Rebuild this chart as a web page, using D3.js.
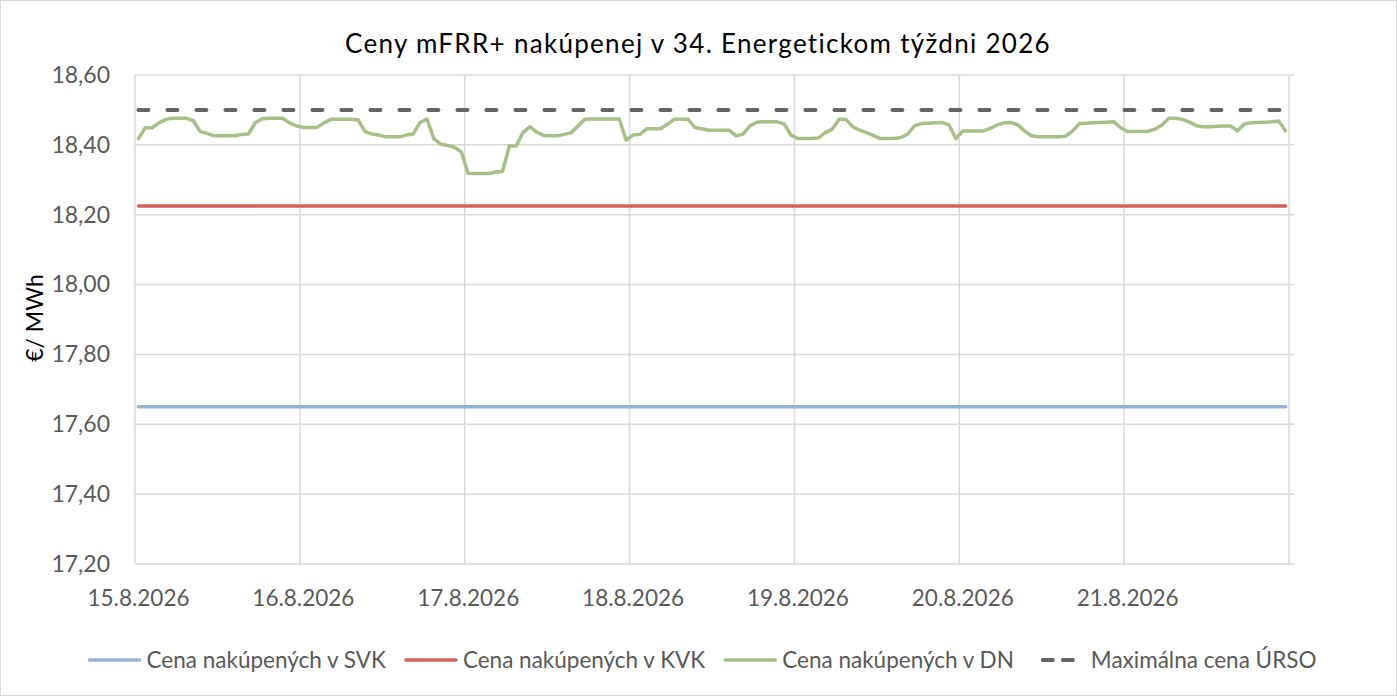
<!DOCTYPE html>
<html>
<head>
<meta charset="utf-8">
<script src="https://cdn.jsdelivr.net/npm/d3@7"></script>
<style>
  body { margin: 0; background: #fff; }
  svg { display: block; font-family: Lato, "Open Sans", sans-serif; }
</style>
</head>
<body>
<svg id="chart"></svg>
<script>
// day labels on the x axis (one per day, hourly data)
const dayLabels = ["15.8.2026", "16.8.2026", "17.8.2026", "18.8.2026", "19.8.2026", "20.8.2026", "21.8.2026"];

// y axis ticks
const yTicks = [17.2, 17.4, 17.6, 17.8, 18.0, 18.2, 18.4, 18.6];

// flat prices
const svkPrice = 17.65;
const kvkPrice = 18.225;
const maxPrice = 18.50;

// hourly prices in DN (168 hours)
const dnPrices = [
  // 15.8.
  18.418, 18.449, 18.449, 18.463, 18.473, 18.476, 18.476, 18.476, 18.469, 18.438, 18.433, 18.426,
  18.426, 18.426, 18.426, 18.430, 18.431, 18.463, 18.475, 18.476, 18.476, 18.476, 18.463, 18.454,
  // 16.8.
  18.450, 18.450, 18.450, 18.463, 18.473, 18.473, 18.473, 18.473, 18.471, 18.438, 18.431, 18.428,
  18.423, 18.423, 18.423, 18.428, 18.431, 18.464, 18.474, 18.418, 18.402, 18.398, 18.393, 18.380,
  // 17.8.
  18.318, 18.318, 18.318, 18.318, 18.322, 18.324, 18.397, 18.397, 18.436, 18.452, 18.436, 18.427,
  18.426, 18.426, 18.430, 18.435, 18.454, 18.473, 18.474, 18.474, 18.474, 18.474, 18.474, 18.414,
  // 18.8.
  18.428, 18.430, 18.446, 18.446, 18.446, 18.459, 18.473, 18.473, 18.473, 18.450, 18.446, 18.442,
  18.442, 18.442, 18.442, 18.426, 18.430, 18.454, 18.465, 18.466, 18.466, 18.466, 18.460, 18.428,
  // 19.8.
  18.418, 18.418, 18.418, 18.420, 18.435, 18.445, 18.473, 18.473, 18.452, 18.442, 18.435, 18.427,
  18.418, 18.418, 18.418, 18.421, 18.431, 18.455, 18.461, 18.462, 18.463, 18.464, 18.457, 18.418,
  // 20.8.
  18.440, 18.440, 18.440, 18.440, 18.447, 18.457, 18.463, 18.464, 18.458, 18.440, 18.426, 18.423,
  18.423, 18.423, 18.423, 18.425, 18.440, 18.461, 18.462, 18.463, 18.464, 18.465, 18.466, 18.449,
  // 21.8.
  18.438, 18.438, 18.438, 18.439, 18.445, 18.457, 18.476, 18.476, 18.473, 18.465, 18.455, 18.452,
  18.452, 18.453, 18.454, 18.454, 18.440, 18.460, 18.463, 18.464, 18.465, 18.466, 18.468, 18.440
];

const seriesNames = ["Cena nakúpených v SVK", "Cena nakúpených v KVK", "Cena nakúpených v DN", "Maximálna cena ÚRSO"];

const width = 1397, height = 696;
const margin = { top: 75, right: 108, bottom: 132, left: 135 };

const svg = d3.select("#chart")
  .attr("width", width)
  .attr("height", height);

// chart border
svg.append("rect")
  .attr("x", 0.5).attr("y", 0.5)
  .attr("width", width - 1).attr("height", height - 1)
  .attr("fill", "#fff")
  .attr("stroke", "#d9d9d9");

const hours = dnPrices.map((d, i) => i);

const x = d3.scaleLinear()
  .domain([0, dayLabels.length * 24])
  .range([margin.left, 1289]);

const y = d3.scaleLinear()
  .domain([17.2, 18.6])
  .range([564, margin.top]);

// horizontal gridlines
svg.append("g")
  .selectAll("line")
  .data(yTicks)
  .enter()
  .append("line")
  .attr("x1", margin.left)
  .attr("x2", 1294)
  .attr("y1", d => y(d))
  .attr("y2", d => y(d))
  .attr("stroke", "#d9d9d9")
  .attr("stroke-width", 1.5);

// vertical day lines (incl. the closing one)
const dayTicks = d3.range(dayLabels.length + 1).map(d => d * 24);
svg.append("g")
  .selectAll("line")
  .data(dayTicks)
  .enter()
  .append("line")
  .attr("x1", d => x(d))
  .attr("x2", d => x(d))
  .attr("y1", y(18.6))
  .attr("y2", y(17.2))
  .attr("stroke", "#d9d9d9")
  .attr("stroke-width", 1.5);

// y axis labels
svg.append("g")
  .attr("transform", `translate(${margin.left - 22},0)`)
  .call(d3.axisLeft(y).tickValues(yTicks).tickSize(0).tickFormat(d => d3.format(".2f")(d).replace(".", ",")))
  .call(g => g.select(".domain").remove())
  .selectAll("text")
  .attr("fill", "#595959")
  .style("font-size", "23px")
  .style("font-family", "Lato, sans-serif");

// x axis labels
svg.append("g")
  .attr("transform", `translate(3,${y(17.2) + 23})`)
  .call(d3.axisBottom(x).tickValues(dayTicks.slice(0, dayLabels.length)).tickSize(0).tickFormat((d, i) => dayLabels[i]))
  .call(g => g.select(".domain").remove())
  .selectAll("text")
  .attr("fill", "#595959")
  .style("font-size", "22.5px")
  .style("font-family", "Lato, sans-serif");

// lines
const line = d3.line()
  .x(d => x(d.h + 0.5))
  .y(d => y(d.v));

const series = [
  { name: seriesNames[0], color: "#95b3d7", dash: null, values: hours.map(h => ({ h, v: svkPrice })) },
  { name: seriesNames[1], color: "#d6605c", dash: null, values: hours.map(h => ({ h, v: kvkPrice })) },
  { name: seriesNames[2], color: "#a8bf88", dash: null, values: hours.map(h => ({ h, v: dnPrices[h] })) },
  { name: seriesNames[3], color: "#646464", dash: "10,19", values: hours.map(h => ({ h, v: maxPrice })) }
];

svg.append("g")
  .selectAll("path")
  .data(series)
  .enter()
  .append("path")
  .attr("d", d => line(d.values))
  .attr("fill", "none")
  .attr("stroke", d => d.color)
  .attr("stroke-width", d => d.dash ? 4 : 3.5)
  .attr("stroke-linejoin", "round")
  .attr("stroke-linecap", "round")
  .attr("stroke-dasharray", d => d.dash);

// title
svg.append("text")
  .attr("x", 698)
  .attr("y", 53)
  .attr("text-anchor", "middle")
  .style("font-size", "26px")
  .style("letter-spacing", "1.3px")
  .attr("fill", "#000")
  .text("Ceny mFRR+ nakúpenej v 34. Energetickom týždni 2026");

// y axis title
svg.append("text")
  .attr("transform", "rotate(-90)")
  .attr("x", -318)
  .attr("y", 43)
  .attr("text-anchor", "middle")
  .style("font-size", "23px")
  .attr("fill", "#000")
  .text("€/ MWh");

// legend
const legend = svg.append("g");
let lx = 0;
series.forEach(s => {
  const item = legend.append("g").attr("transform", `translate(${lx},0)`);
  item.append("line")
    .attr("x1", s.dash ? 11 : 2).attr("x2", s.dash ? 41 : 52)
    .attr("y1", 0).attr("y2", 0)
    .attr("stroke", s.color)
    .attr("stroke-width", s.dash ? 4 : 3.5)
    .attr("stroke-linecap", "round")
    .attr("stroke-dasharray", s.dash ? "10,10" : null);
  const t = item.append("text")
    .attr("x", 59)
    .attr("y", 8)
    .style("font-size", "22.5px")
    .attr("fill", "#595959")
    .text(s.name);
  lx += 59 + t.node().getComputedTextLength() + 18;
});
legend.attr("transform", `translate(${702 - (lx - 18) / 2},660)`);
</script>
</body>
</html>
